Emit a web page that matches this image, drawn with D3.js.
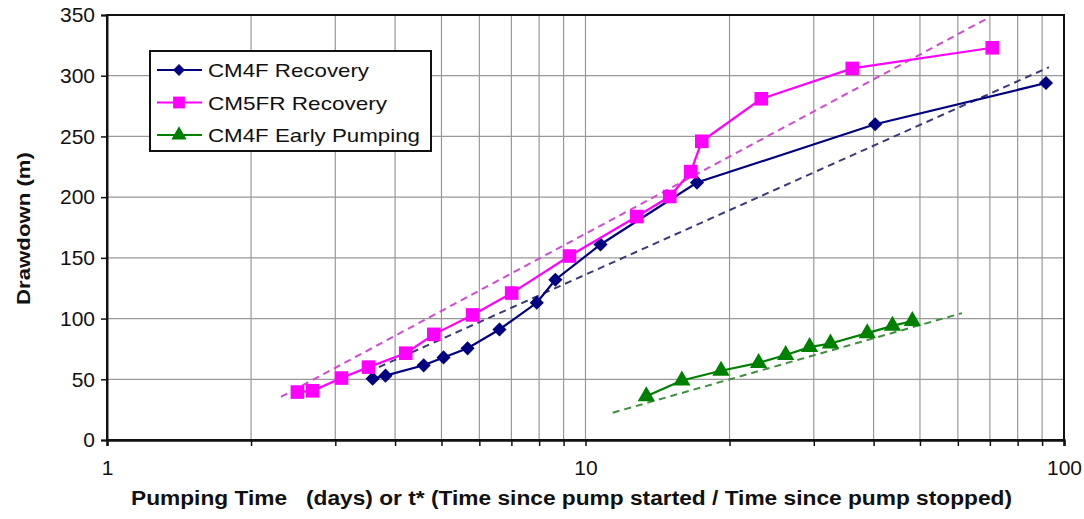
<!DOCTYPE html>
<html>
<head>
<meta charset="utf-8">
<script src="https://cdn.jsdelivr.net/npm/d3@7/dist/d3.min.js"></script>
<style>
  html, body { margin: 0; padding: 0; background: #fff; }
  svg { display: block; font-family: "Liberation Sans", Arial, sans-serif; }
</style>
</head>
<body>
<svg id="chart" width="1084" height="519"></svg>
<script>
// Recovery series: [t or t*, drawdown m]
const cm4fRecovery = [
  [3.59, 50.5], [3.82, 53], [4.59, 61.5], [5.05, 68], [5.67, 75.5],
  [6.61, 91], [7.91, 113], [8.65, 132], [10.75, 161], [17.1, 212],
  [40.3, 260], [91.7, 294]
];
const cm5frRecovery = [
  [2.50, 39.5], [2.69, 40.5], [3.09, 51], [3.52, 60], [4.21, 71.5],
  [4.82, 87], [5.81, 103], [7.01, 121], [9.26, 151.5], [12.8, 184],
  [15.0, 200.5], [16.6, 221], [17.5, 246], [23.3, 281], [36.1, 306],
  [70.8, 323]
];
const cm4fEarly = [
  [13.4, 36], [15.9, 49], [19.2, 57], [23.0, 63.5], [26.2, 70],
  [29.4, 76.5], [32.5, 79.5], [38.8, 88], [43.8, 94], [48.2, 98]
];
// Straight-line (semi-log) fits
const cm4fFit = [[3.51, 56], [93.0, 307]];
const cm5frFit = [[2.31, 35.5], [69.0, 347]];
const earlyFit = [[11.4, 22.5], [61.2, 104.5]];

const yTicks = [0, 50, 100, 150, 200, 250, 300, 350];
const xLabels = [1, 10, 100];
const legendNames = ["CM4F Recovery", "CM5FR Recovery", "CM4F Early Pumping"];

const svg = d3.select("#chart");
const L = 107, R = 1064, T = 15, B = 440;
const x = d3.scaleLog().domain([1, 100]).range([L, R]);
const y = d3.scaleLinear().domain([0, 350]).range([B, T]);

// minor log positions 1..100
const xGrid = [];
for (let d = 1; d < 100; d *= 10) for (let k = 1; k < 10; k++) xGrid.push(d * k);
xGrid.push(100);

const grid = svg.append("g");
grid.selectAll("line.v").data(xGrid).join("line")
  .attr("x1", d => x(d)).attr("x2", d => x(d))
  .attr("y1", T).attr("y2", B)
  .attr("stroke", "#999").attr("stroke-width", 1.2);
grid.selectAll("line.h").data(yTicks).join("line")
  .attr("x1", L).attr("x2", R)
  .attr("y1", d => y(d)).attr("y2", d => y(d))
  .attr("stroke", "#999").attr("stroke-width", 1.2);

// frame
svg.append("rect").attr("x", L).attr("y", T).attr("width", R - L).attr("height", B - T)
  .attr("fill", "none").attr("stroke", "#111").attr("stroke-width", 2);

// axes
const yAxis = d3.axisLeft(y).tickValues(yTicks).tickSize(6).tickPadding(6).tickFormat(d3.format("d"));
const gy = svg.append("g").attr("transform", `translate(${L},0)`).call(yAxis);
gy.select(".domain").attr("stroke", "#111").attr("stroke-width", 2);
gy.selectAll(".tick line").attr("stroke", "#111").attr("stroke-width", 1.5);
gy.selectAll(".tick text").attr("font-size", 21).attr("fill", "#111")
  .attr("font-family", "Liberation Sans, Arial, sans-serif");

const xAxis = d3.axisBottom(x).tickValues(xGrid).tickSize(6).tickPadding(14)
  .tickFormat(d => xLabels.includes(d) ? String(d) : "");
const gx = svg.append("g").attr("transform", `translate(0,${B})`).call(xAxis);
gx.select(".domain").attr("stroke", "#111").attr("stroke-width", 2.5);
gx.selectAll(".tick line").attr("stroke", "#111").attr("stroke-width", 1.5);
gx.selectAll(".tick text").attr("font-size", 21).attr("fill", "#111")
  .attr("font-family", "Liberation Sans, Arial, sans-serif");

// axis titles
svg.append("text")
  .attr("transform", `translate(30,${(T + B) / 2 + 1}) rotate(-90)`)
  .attr("text-anchor", "middle").attr("font-size", 19).attr("font-weight", "bold")
  .attr("textLength", 153).attr("lengthAdjust", "spacingAndGlyphs")
  .attr("fill", "#111").text("Drawdown (m)");
svg.append("text")
  .attr("x", 131).attr("y", 505).attr("font-size", 20).attr("font-weight", "bold")
  .attr("textLength", 881).attr("lengthAdjust", "spacingAndGlyphs")
  .attr("fill", "#111").attr("xml:space", "preserve").style("white-space", "pre")
  .text("Pumping Time   (days) or t* (Time since pump started / Time since pump stopped)");

const line = d3.line().x(d => x(d[0])).y(d => y(d[1]));

// fitted dashed lines
const fits = [
  { data: cm4fFit, color: "#3a3a78" },
  { data: cm5frFit, color: "#d24ad2" },
  { data: earlyFit, color: "#3f8f3f" }
];
svg.append("g").selectAll("path").data(fits).join("path")
  .attr("d", d => line(d.data)).attr("fill", "none")
  .attr("stroke", d => d.color).attr("stroke-width", 2).attr("stroke-dasharray", "7,5");

const series = [
  { data: cm4fEarly, color: "#008000", sym: d3.symbolTriangle, size: 130, rot: 0 },
  { data: cm4fRecovery, color: "#000080", sym: d3.symbolSquare, size: 100, rot: 45 },
  { data: cm5frRecovery, color: "#ff00ff", sym: d3.symbolSquare, size: 185, rot: 0 }
];
series.forEach(s => {
  const g = svg.append("g");
  g.append("path").attr("d", line(s.data)).attr("fill", "none")
    .attr("stroke", s.color).attr("stroke-width", 2.2);
  g.selectAll("path.m").data(s.data).join("path")
    .attr("class", "m")
    .attr("d", d3.symbol().type(s.sym).size(s.size))
    .attr("transform", d => `translate(${x(d[0])},${y(d[1])}) rotate(${s.rot})`)
    .attr("fill", s.color);
});

// legend
const lg = svg.append("g");
lg.append("rect").attr("x", 150).attr("y", 51).attr("width", 281).attr("height", 100)
  .attr("fill", "#fff").attr("stroke", "#111").attr("stroke-width", 2);
const legendItems = [
  { name: legendNames[0], color: "#000080", sym: d3.symbolSquare, size: 70, rot: 45, w: 161 },
  { name: legendNames[1], color: "#ff00ff", sym: d3.symbolSquare, size: 140, rot: 0, w: 179 },
  { name: legendNames[2], color: "#008000", sym: d3.symbolTriangle, size: 100, rot: 0, w: 212 }
];
legendItems.forEach((it, i) => {
  const cy = 70 + i * 32.5;
  lg.append("line").attr("x1", 157).attr("x2", 202).attr("y1", cy).attr("y2", cy)
    .attr("stroke", it.color).attr("stroke-width", 2);
  lg.append("path").attr("d", d3.symbol().type(it.sym).size(it.size))
    .attr("transform", `translate(179,${cy}) rotate(${it.rot})`).attr("fill", it.color);
  lg.append("text").attr("x", 208).attr("y", cy + 7).attr("font-size", 19)
    .attr("textLength", it.w).attr("lengthAdjust", "spacingAndGlyphs")
    .attr("fill", "#111").text(it.name);
});
</script>
</body>
</html>
